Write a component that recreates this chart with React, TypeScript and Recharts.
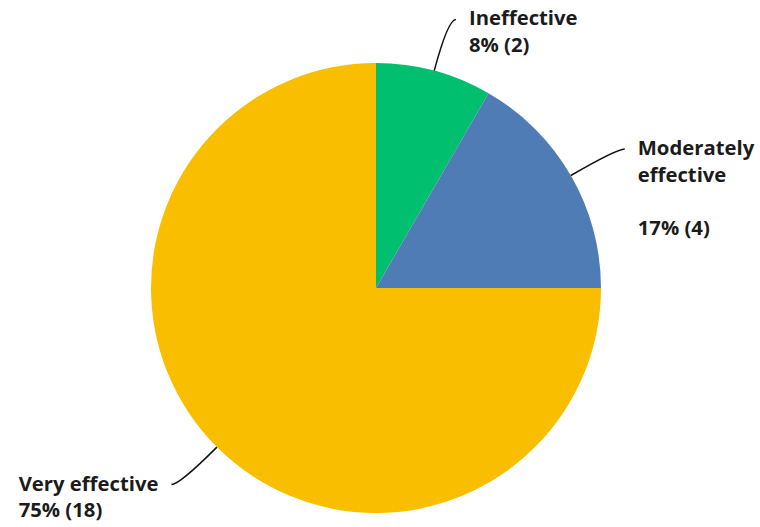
import { PieChart, Pie, Cell } from "recharts";

const categories = ["Ineffective", "Moderately effective", "Very effective"];
const labelLines = [["Ineffective"], ["Moderately", "effective", ""], ["Very effective"]];
const counts = [2, 4, 18];
const colors = ["#00BF6F", "#507CB6", "#F9BE00"];

const data = categories.map((name, i) => ({ name, value: counts[i], idx: i }));

const RAD = Math.PI / 180;
const FONT = "700 20.3px 'Open Sans', sans-serif";

function textWidth(s: string) {
  const ctx = document.createElement("canvas").getContext("2d");
  if (!ctx) return s.length * 10;
  ctx.font = FONT;
  return ctx.measureText(s).width;
}

function renderLabel(props: any) {
  const { cx, cy, midAngle, outerRadius, percent, value, index } = props;
  const cos = Math.cos(-midAngle * RAD);
  const sin = Math.sin(-midAngle * RAD);
  const sx = cx + outerRadius * cos;
  const sy = cy + outerRadius * sin;
  const mx = cx + (outerRadius + 53) * cos;
  const my = cy + (outerRadius + 53) * sin;
  const side = cos >= 0 ? 1 : -1;
  const ex = mx + side * 8;
  const ey = my;
  const lines = [...labelLines[index], `${Math.round(percent * 100)}% (${value})`];
  // left-side labels are a left-aligned block ending just before the line
  const blockW = Math.max(...lines.map(textWidth));
  const tx = side > 0 ? ex + 13 : ex - 13 - blockW;
  return (
    <g>
      <path
        d={`M${sx},${sy} Q${mx},${my} ${ex},${ey}`}
        stroke="#111"
        strokeWidth={1.5}
        fill="none"
      />
      <text
        x={tx}
        y={ey}
        textAnchor="start"
        fill="#1b1b1b"
        fontFamily="'Open Sans', sans-serif"
        fontWeight={700}
        fontSize={20.3}
      >
        {lines.map((l, i) => (
          <tspan key={i} x={tx} y={ey + 6 + i * 26.5}>
            {l || "\u00a0"}
          </tspan>
        ))}
      </text>
    </g>
  );
}

export default function App() {
  return (
    <div style={{ position: "absolute", left: 0, top: 0 }}>
      <PieChart width={760} height={527} margin={{ top: 0, right: 0, bottom: 0, left: 0 }}>
        <Pie
          data={data}
          dataKey="value"
          nameKey="name"
          cx={376}
          cy={288}
          outerRadius={225}
          startAngle={90}
          endAngle={-270}
          stroke="none"
          label={renderLabel}
          labelLine={false}
          isAnimationActive={false}
        >
          {data.map((d) => (
            <Cell key={d.name} fill={colors[d.idx]} />
          ))}
        </Pie>
      </PieChart>
    </div>
  );
}
